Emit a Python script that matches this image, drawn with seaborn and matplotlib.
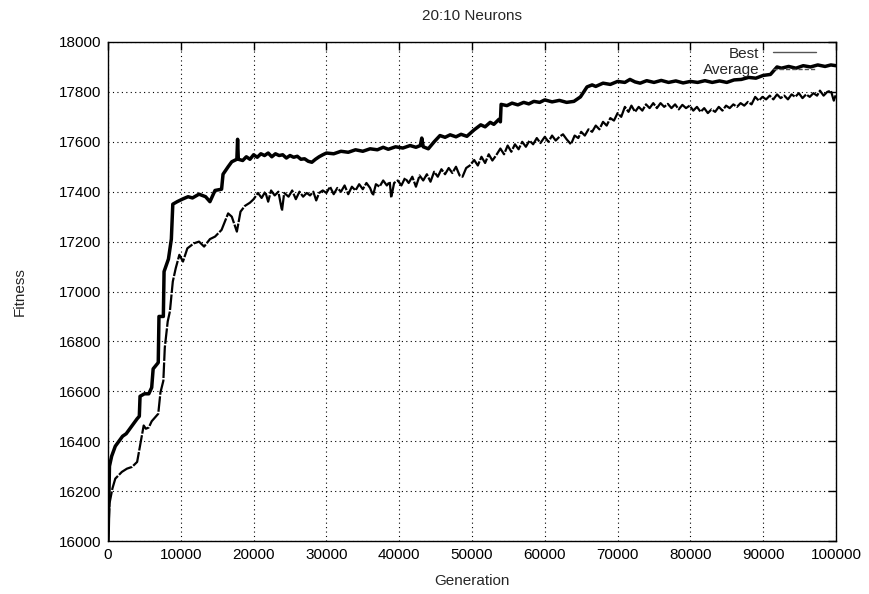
import numpy as np
import pandas as pd
import matplotlib
matplotlib.use("Agg")
import matplotlib.pyplot as plt
import seaborn as sns

title = "20:10 Neurons"
x_label = "Generation"
y_label = "Fitness"
x_ticks = [0, 10000, 20000, 30000, 40000, 50000, 60000, 70000, 80000, 90000, 100000]
y_ticks = [16000, 16200, 16400, 16600, 16800, 17000, 17200, 17400, 17600, 17800, 18000]

best_gen = [0, 200, 500, 1000, 1500, 2000, 2500, 3000, 3500, 4000, 4300, 4400, 5000, 5600,
            6000, 6200, 6900, 7000, 7600, 7700, 8300, 8700, 8900, 9500, 10200, 11000, 11600,
            12500, 13400, 14000, 14700, 15600, 15800, 16500, 17000, 17700, 17800, 17900,
            18500, 19000, 19500, 20000, 20500, 21000, 21500, 22000, 22500, 23000, 23500,
            24000, 24500, 25000, 25500, 26000, 26500, 27000, 27500, 28000, 28500, 29000,
            29500, 30000, 31000, 32000, 33000, 34000, 35000, 36000, 37000, 37800, 38500,
            39500, 40500, 41500, 42300, 42900, 43100, 43300, 44000, 44800, 45600, 46300,
            47000, 47800, 48500, 49300, 50300, 51200, 51800, 52500, 53000, 53700, 53900,
            54000, 54800, 55500, 56300, 57100, 57800, 58500, 59300, 60000, 61000, 62000,
            63000, 64000, 64900, 65800, 66500, 67000, 68000, 69000, 70000, 71000, 71700,
            72400, 73100, 74000, 75000, 76000, 77000, 78000, 79000, 80000, 81000, 82000,
            83000, 84000, 85000, 86000, 87000, 88000, 89000, 90000, 91000, 91900, 92500,
            93500, 94500, 95500, 96500, 97500, 98500, 99300, 100000]
best_fit = [16000, 16300, 16340, 16380, 16400, 16420, 16430, 16450, 16470, 16490, 16500, 16580,
            16590, 16590, 16615, 16690, 16715, 16900, 16900, 17080, 17130, 17210, 17350, 17360,
            17370, 17380, 17375, 17390, 17380, 17360, 17405, 17410, 17470, 17500, 17520, 17530,
            17610, 17530,
            17525, 17540, 17530, 17548, 17538, 17552, 17545, 17555, 17540, 17552, 17545,
            17548, 17535, 17545, 17538, 17542, 17530, 17532, 17522, 17518, 17530, 17540,
            17548, 17555, 17552, 17562, 17558, 17568, 17562, 17572, 17568, 17578, 17570,
            17580, 17575, 17585, 17578, 17585, 17615, 17580, 17572, 17600, 17625, 17618,
            17628, 17620, 17630, 17622, 17648, 17668, 17660, 17678, 17670, 17690, 17680,
            17750, 17745, 17755, 17748, 17758, 17752, 17762, 17758, 17768, 17760, 17766,
            17758, 17762, 17780, 17820, 17828, 17822, 17835, 17830, 17842, 17838, 17850,
            17840, 17835, 17845, 17838, 17846, 17838, 17844, 17836, 17842, 17838, 17845,
            17838, 17844, 17838, 17848, 17850, 17858, 17855, 17866, 17870, 17900, 17895,
            17902, 17895, 17905, 17900, 17908, 17902, 17908, 17905]

avg_gen = [0, 200, 600, 1000, 1500, 1900, 2600, 3300, 4000, 4200, 4900, 5200, 5600, 6000, 6500,
           6900, 7200, 7600, 7800, 8200, 8500, 8900, 9300, 9800, 10300, 10900, 11800, 12500,
           13200, 14000, 14700, 15600, 16500, 17000, 17700, 18200, 18800, 19500,
           20000, 20600, 21100, 21600, 22000, 22400, 22900, 23400, 23900, 24200, 24800,
           25300, 25800, 26300, 26800, 27300, 27750, 28200, 28600, 29000, 29500, 30000,
           30500, 31000, 31500, 32000, 32500, 33000, 33500, 34000, 34500, 35000, 35500,
           36000, 36400, 36800, 37300, 37800, 38300, 38700, 38900, 39300, 39800, 40300,
           40800, 41300, 41800, 42300, 42800, 43300, 43800, 44300, 44800, 45300, 45800,
           46300, 46800, 47300, 47800, 48300, 48700, 49200, 49700, 50300, 50800, 51300,
           51800, 52300, 52800, 53300, 53900, 54400, 54900, 55400, 55900, 56400, 56900,
           57400, 57900, 58400, 58900, 59400, 60000, 60500, 61000, 61500, 62000, 62500,
           63000, 63600, 64100, 64600, 65000, 65500, 66000, 66500, 67000, 67500, 68000,
           68500, 69000, 69500, 70000, 70500, 71000, 71500, 71900, 72400, 72900, 73400,
           73900, 74400, 74900, 75400, 75900, 76400, 76900, 77400, 77900, 78400, 78900,
           79400, 79900, 80400, 80900, 81400, 81900, 82400, 82900, 83400, 83900, 84400,
           84900, 85400, 85900, 86400, 86900, 87400, 87900, 88400, 88900, 89400, 89900,
           90400, 90900, 91400, 91900, 92400, 92900, 93400, 93900, 94400, 94900, 95400,
           95900, 96400, 96900, 97400, 97800, 98300, 98800, 99300, 99700, 100000]
avg_fit = [16000, 16150, 16210, 16250, 16265, 16277, 16290, 16297, 16317, 16350, 16463, 16450,
           16455, 16480, 16497, 16510, 16595, 16642, 16775, 16880, 16920, 17040, 17093, 17147,
           17120, 17173, 17193, 17200, 17180, 17210, 17220, 17247, 17313, 17300, 17240, 17320,
           17343, 17356,
           17370, 17395, 17375, 17400, 17360, 17405, 17385, 17400, 17324, 17395, 17380,
           17405, 17370, 17400, 17380, 17395, 17385, 17400, 17365, 17395, 17405, 17395,
           17420, 17390, 17415, 17400, 17425, 17390, 17420, 17405, 17430, 17410, 17435,
           17415, 17385, 17430, 17420, 17445, 17425, 17440, 17376, 17435, 17445, 17425,
           17455, 17435, 17460, 17420, 17465, 17445, 17470, 17440, 17480, 17460, 17490,
           17470, 17495, 17475, 17500, 17465, 17460, 17495, 17505, 17527, 17505, 17540,
           17515, 17550, 17525, 17545, 17573, 17550, 17585, 17560, 17590, 17570, 17600,
           17580, 17605, 17590, 17615, 17595, 17620, 17600, 17625, 17605, 17620, 17630,
           17610, 17590, 17625, 17615, 17640, 17625, 17650, 17640, 17665, 17650, 17680,
           17665, 17695, 17685, 17715, 17700, 17740, 17720, 17745, 17720, 17740, 17725,
           17750, 17735, 17755, 17735, 17755, 17740, 17752, 17735, 17750, 17730, 17748,
           17735, 17745, 17725, 17740, 17720, 17735, 17715, 17730, 17720, 17740, 17725,
           17745, 17735, 17750, 17740, 17755, 17745, 17760, 17750, 17780, 17765, 17780,
           17770, 17785, 17770, 17790, 17775, 17785, 17770, 17790, 17780, 17795, 17775,
           17790, 17780, 17795, 17785, 17805, 17785, 17800, 17805, 17765, 17790]

sns.set_theme(style="white")
plt.rcParams["font.family"] = ["Liberation Sans", "DejaVu Sans"]

fig = plt.figure(figsize=(8.69, 5.94), dpi=100)
ax = fig.add_axes([0.1243, 0.0892, 0.8377, 0.8401])

sns.lineplot(x=best_gen, y=best_fit, ax=ax, color="black", linewidth=2.5,
             estimator=None, sort=False, label="Best")
sns.lineplot(x=avg_gen, y=avg_fit, ax=ax, color="black", linewidth=1.6,
             estimator=None, sort=False, label="Average", dashes=False)
ax.lines[-1].set_dashes([7, 0.7])

ax.set_xlim(0, 100000)
ax.set_ylim(16000, 18000)
ax.set_xticks(x_ticks)
ax.set_yticks(y_ticks)
ax.set_xticklabels([str(t) for t in x_ticks])
ax.set_yticklabels([str(t) for t in y_ticks])
ax.tick_params(direction="in", length=6, width=1, top=True, right=True,
               labelsize=11, colors="black", pad=5)
ax.grid(True, color="black", linestyle=(0, (1, 3)), linewidth=0.8)
for s in ax.spines.values():
    s.set_color("black")
    s.set_linewidth(1.0)

ax.set_title(title, fontsize=11, pad=16)
ax.set_xlabel(x_label, fontsize=11, labelpad=9)
ax.set_ylabel(y_label, fontsize=11, labelpad=23)

leg = ax.legend(loc="upper right", frameon=False, markerfirst=False, fontsize=11,
                handlelength=2.8, handletextpad=0.9, borderaxespad=0.3,
                labelspacing=0.15, bbox_to_anchor=(0.987, 1.012))
for ln in leg.get_lines():
    ln.set_linewidth(1.0)
    ln.set_color("#555555")
leg.get_lines()[1].set_dashes([3, 1.5])

fig.savefig("out.png", dpi=100)
